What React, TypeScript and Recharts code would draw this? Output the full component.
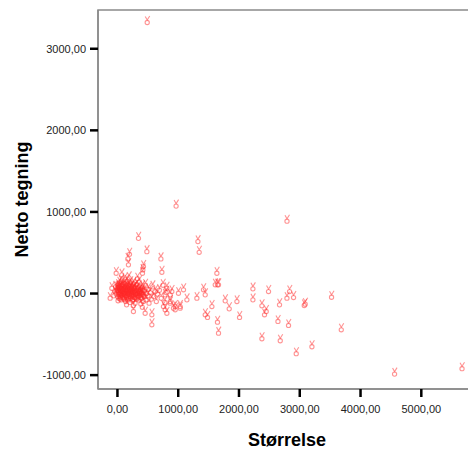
import {
  ReferenceArea,
  Scatter,
  ScatterChart,
  XAxis,
  YAxis,
} from "recharts";

// Størrelse (x) / Netto tegning (y)
const OUTLIERS_X = [490, 965, 2790, 346, 484, 198, 171, 715, 1324, 1345, 181, 428, 412, -21, 731, 1636, 1609, 72, 418, -92, -120, 813, 785, 895, 1004, 1032, 950, 868, 263, 456, 566, 566, 757, 1646, 1087, 1416, 1444, 1307, 1143, 868, 868, 950, 1032, 785, 813, 1663, 2229, 2486, 2832, 2789, 2898, 3523, 1773, 1966, 2229, 1554, 1839, 2377, 2667, 3090, 3074, 2448, 2420, 1444, 1482, 2009, 1646, 2641, 2815, 1663, 3683, 2377, 2679, 3200, 2942, 4560, 5670, 922];
const OUTLIERS_Y = [3340, 1090, 905, 695, 532, 499, 443, 443, 655, 524, 370, 349, 267, 267, 279, 267, 125, 247, 308, 83, -39, 83, 2, 43, 22, -141, -181, -100, -202, -223, -242, -365, -141, 125, 64, 64, 2, -39, -59, 2, -80, -141, -161, -181, -223, 125, 76, 43, 43, -39, -31, -27, -71, -80, -59, -141, -169, -132, -120, -112, -128, -202, -242, -242, -275, -275, -333, -324, -373, -467, -426, -536, -560, -634, -719, -969, -903, -161];

const CLUSTER_X = [-40, -20, -10, 0, 5, 10, 15, 20, 25, 30, 35, 40, 45, 50, 55, 60, 65, 70, 75, 80, 85, 90, 95, 100, 105, 110, 115, 120, 125, 130, 135, 140, 145, 150, 155, 160, 165, 170, 175, 180, 185, 190, 195, 200, 205, 210, 215, 220, 225, 230, 235, 240, 245, 250, 255, 260, 265, 270, 275, 280, 290, 295, 300, 310, 315, 320, 330, 335, 340, 350, 355, 360, 370, 380, 385, 390, 400, 410, 420, 430, 440, 450, 460, 470, 480, 500, 510, 520, 540, 560, 580, 600, 620, 640, 660, 690, 720, 750, 780, 800, -60, -30, 10, 60, 120, 190, 150, 260, 330, 410];
const CLUSTER_Y = [40, 10, 60, 90, -20, 30, 120, 70, -40, 10, 150, 50, -10, 100, 20, -60, 80, 0, 130, 40, -30, 60, 110, 10, -50, 80, 30, -10, 140, 60, -80, 20, 100, -30, 50, 170, 0, 90, -60, 30, 120, -20, 70, 10, -90, 50, 150, -40, 90, 20, -10, 110, 60, -70, 30, 0, 140, 80, -30, 40, -100, 100, 10, 60, -50, 130, 20, -20, 90, -60, 40, 160, 0, 70, -110, 30, -40, 100, 10, -80, 50, -20, 120, -60, 20, -10, 70, -100, 30, -50, 100, -20, 40, -80, 10, 60, -40, 120, -90, 30, -10, 100, -70, 170, 190, 210, -120, -130, 200, -150];

// densest core, x 0-450, y -60..110
const CORE_X = [8, 22, 38, 52, 66, 78, 92, 104, 118, 132, 146, 158, 172, 186, 198, 212, 226, 238, 252, 266, 280, 296, 312, 328, 344, 362, 378, 396, 414, 432, 18, 44, 70, 96, 122, 148, 174, 200, 228, 256, 284, 312, 340, 370, 400];
const CORE_Y = [55, 15, 85, -25, 45, 5, 75, -35, 35, 95, -5, 65, 25, -45, 50, 80, 0, 40, -20, 70, 10, -40, 55, 20, -10, 45, -30, 15, 60, -15, 100, -50, 110, 30, -60, 75, -25, 105, 35, -55, 85, 0, -35, 25, -5];

const X_TICKS = [0, 1000, 2000, 3000, 4000, 5000];
const Y_TICKS = [-1000, 0, 1000, 2000, 3000];
const X_DOMAIN: [number, number] = [-320, 5900];
const Y_DOMAIN: [number, number] = [-1170, 3475];

const data = [
  ...CLUSTER_X.map((x, i) => ({ x, y: CLUSTER_Y[i] })),
  ...CORE_X.map((x, i) => ({ x, y: CORE_Y[i] })),
  ...OUTLIERS_X.map((x, i) => ({ x, y: OUTLIERS_Y[i] })),
];

const FONT = "Arial, 'Liberation Sans', sans-serif";
const fmt = (v: number) => v.toFixed(2).replace(".", ",");

function Marker({ cx, cy }: { cx?: number; cy?: number }) {
  if (cx == null || cy == null) return null;
  return (
    <g stroke="#ff2a2a" strokeOpacity={0.5} fill="none" strokeWidth={1.1}>
      <path d={`M${cx - 2} ${cy - 4.5} L${cx} ${cy - 1} L${cx + 2.5} ${cy - 5}`} />
      <circle cx={cx} cy={cy + 1.5} r={2.1} />
    </g>
  );
}

export default function App() {
  return (
    <div
      style={{
        position: "absolute",
        left: 0,
        top: 0,
        width: 468,
        height: 454,
        overflow: "hidden",
        background: "#fff",
      }}
    >
      <ScatterChart
        width={490}
        height={454}
        margin={{ top: 10, right: 14, bottom: 0, left: 0 }}
      >
        <ReferenceArea
          x1={X_DOMAIN[0]}
          x2={X_DOMAIN[1]}
          y1={Y_DOMAIN[0]}
          y2={Y_DOMAIN[1]}
          fill="none"
          stroke="#8a8a8a"
          strokeWidth={1.5}
        />
        <XAxis
          type="number"
          dataKey="x"
          domain={X_DOMAIN}
          ticks={X_TICKS}
          allowDataOverflow
          height={65}
          tickFormatter={fmt}
          tickSize={8}
          tickMargin={8}
          axisLine={{ stroke: "#8a8a8a", strokeWidth: 1.5 }}
          tickLine={{ stroke: "#000", strokeWidth: 2.5 }}
          tick={{ fontSize: 11, fill: "#222", fontFamily: FONT }}
          label={{
            content: (p: any) => {
              const vb = p.viewBox || {};
              return (
                <text
                  x={vb.x + vb.width / 2}
                  y={vb.y + 57}
                  textAnchor="middle"
                  fontSize={18}
                  fontWeight="bold"
                  fontFamily={FONT}
                  fill="#000"
                >
                  Størrelse
                </text>
              );
            },
          }}
        />
        <YAxis
          type="number"
          dataKey="y"
          domain={Y_DOMAIN}
          ticks={Y_TICKS}
          allowDataOverflow
          width={98}
          tickFormatter={fmt}
          tickSize={8}
          tickMargin={4}
          axisLine={{ stroke: "#8a8a8a", strokeWidth: 1.5 }}
          tickLine={{ stroke: "#000", strokeWidth: 2.5 }}
          tick={{ fontSize: 11, fill: "#222", fontFamily: FONT }}
          label={{
            content: (p: any) => {
              const vb = p.viewBox || {};
              const cx = 22;
              const cy = vb.y + vb.height / 2;
              return (
                <text
                  x={cx}
                  y={cy}
                  transform={`rotate(-90 ${cx} ${cy})`}
                  textAnchor="middle"
                  dominantBaseline="central"
                  fontSize={18}
                  fontWeight="bold"
                  fontFamily={FONT}
                  fill="#000"
                >
                  Netto tegning
                </text>
              );
            },
          }}
        />
        <Scatter
          data={data}
          shape={(p: any) => <Marker cx={p.cx} cy={p.cy} />}
          isAnimationActive={false}
        />
      </ScatterChart>
    </div>
  );
}
